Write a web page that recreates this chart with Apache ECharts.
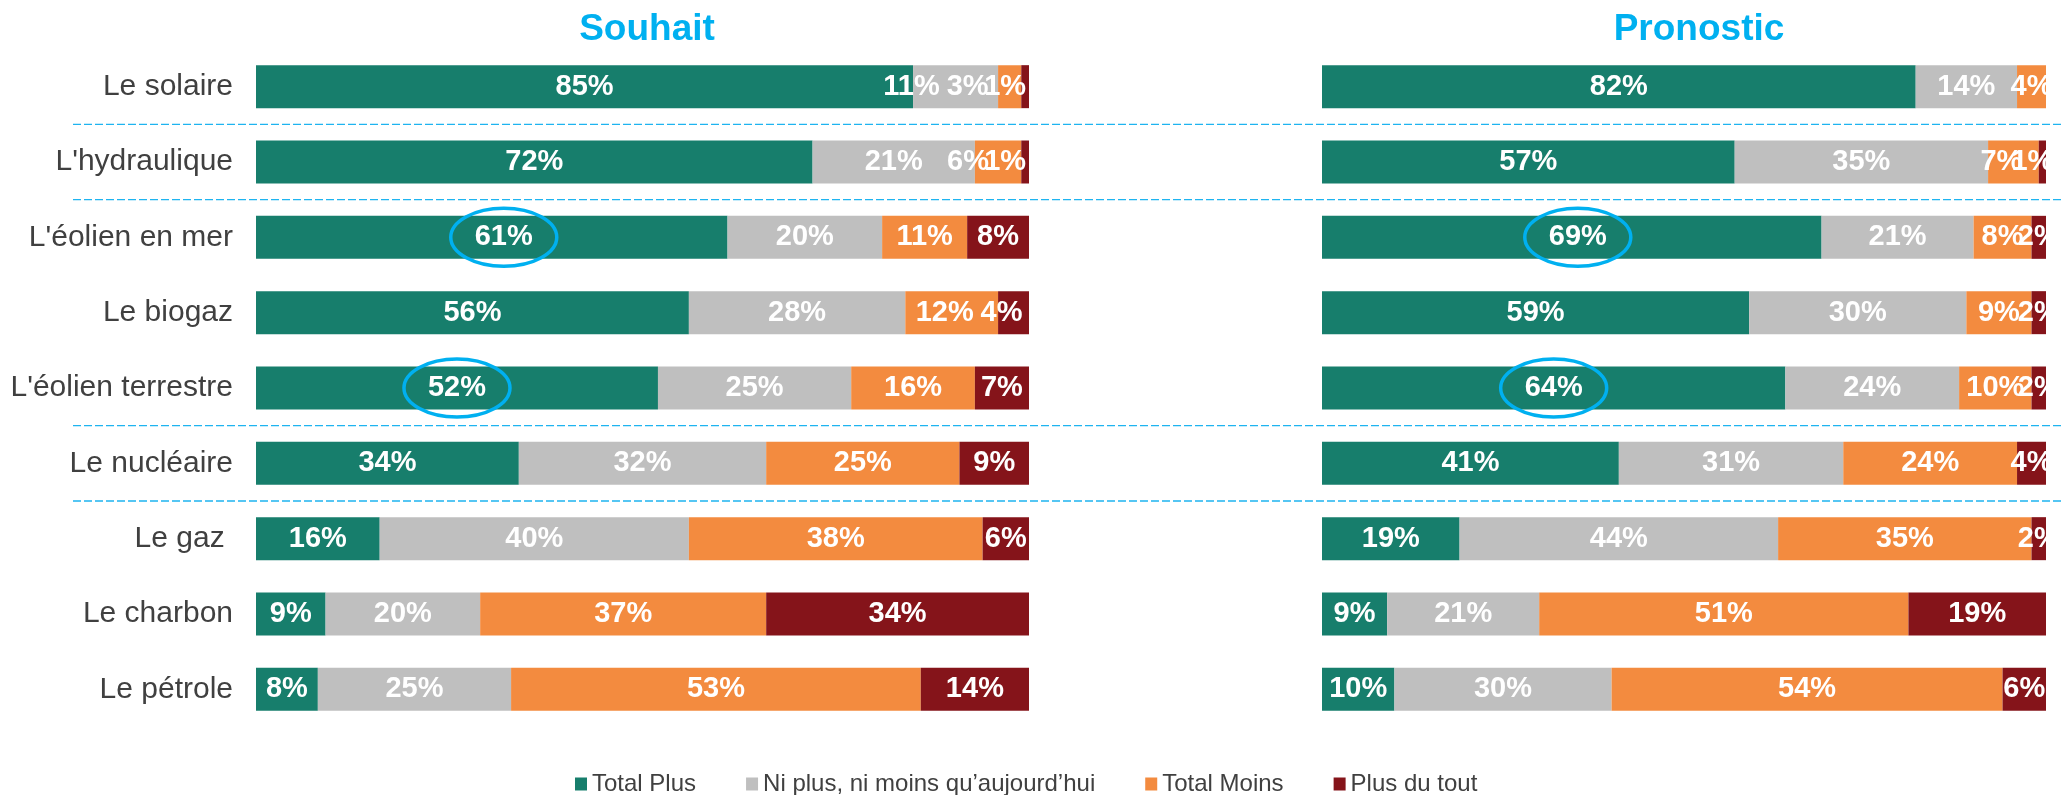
<!DOCTYPE html>
<html>
<head>
<meta charset="utf-8">
<script src="https://cdn.jsdelivr.net/npm/echarts@6/dist/echarts.min.js"></script>
<style>
  html, body { margin: 0; padding: 0; background: #fff; }
  #chart { width: 2061px; height: 795px; }
</style>
</head>
<body>
<div id="chart"></div>
<script>
const categories = ['Le solaire', "L'hydraulique", "L'éolien en mer", 'Le biogaz', "L'éolien terrestre", 'Le nucléaire', 'Le gaz ', 'Le charbon', 'Le pétrole'];
const seriesNames = ['Total Plus', 'Ni plus, ni moins qu’aujourd’hui', 'Total Moins', 'Plus du tout'];
const panelTitles = ['Souhait', 'Pronostic'];

const souhaitPlus = [85, 72, 61, 56, 52, 34, 16, 9, 8];
const souhaitNi = [11, 21, 20, 28, 25, 32, 40, 20, 25];
const souhaitMoins = [3, 6, 11, 12, 16, 25, 38, 37, 53];
const souhaitPlusDuTout = [1, 1, 8, 4, 7, 9, 6, 34, 14];

const pronosticPlus = [82, 57, 69, 59, 64, 41, 19, 9, 10];
const pronosticNi = [14, 35, 21, 30, 24, 31, 44, 21, 30];
const pronosticMoins = [4, 7, 8, 9, 10, 24, 35, 51, 54];
const pronosticPlusDuTout = [0, 1, 2, 2, 2, 4, 2, 19, 6];

// rows that get a blue ring around the "Total Plus" label: [panel, row]
const circled = [[0, 2], [0, 4], [1, 2], [1, 4]];
// dashed separator drawn below these rows
const separatorsAfter = [0, 1, 4, 5];

// labels shifted sideways as in the original: [panel, row, series, dx]
const labelNudges = [
  [0, 0, 1, -44], [0, 0, 2, -42], [0, 0, 3, -20],
  [0, 1, 2, -30], [0, 1, 3, -20],
  [0, 2, 0, 12],
  [0, 3, 2, -7], [0, 3, 3, -12],
  [1, 1, 2, -12], [1, 1, 3, -10],
  [1, 2, 0, 6]
];

const colors = ['#177E6C', '#BFBFBF', '#F38B3F', '#85141A'];
const font = 'Liberation Sans, Arial, sans-serif';

const panels = [
  [souhaitPlus, souhaitNi, souhaitMoins, souhaitPlusDuTout],
  [pronosticPlus, pronosticNi, pronosticMoins, pronosticPlusDuTout]
];

function nudgeOf(p, row, s) {
  const n = labelNudges.find(a => a[0] === p && a[1] === row && a[2] === s);
  return n ? n[3] : 0;
}

function buildData(p, s) {
  return panels[p][s].map((v, row) => {
    const dx = nudgeOf(p, row, s);
    return dx ? { value: v, label: { offset: [dx, 0] } } : v;
  });
}

const series = [];
panels.forEach((vals, p) => {
  vals.forEach((arr, s) => {
    series.push({
      name: seriesNames[s],
      type: 'bar',
      stack: 'panel' + p,
      xAxisIndex: p,
      yAxisIndex: p,
      barWidth: 43,
      itemStyle: { color: colors[s] },
      label: {
        show: true,
        position: 'inside',
        color: '#fff',
        fontWeight: 'bold',
        fontSize: 29,
        fontFamily: font,
        formatter: (prm) => prm.value > 0 ? prm.value + '%' : ''
      },
      emphasis: { disabled: true },
      data: buildData(p, s)
    });
  });
});

const chart = echarts.init(document.getElementById('chart'));

chart.setOption({
  animation: false,
  textStyle: { fontFamily: font },
  title: [
    { text: panelTitles[0], left: 647, top: 11, padding: 0, textAlign: 'center',
      textStyle: { color: '#00B0F0', fontSize: 37, fontWeight: 'bold', fontFamily: font } },
    { text: panelTitles[1], left: 1699, top: 11, padding: 0, textAlign: 'center',
      textStyle: { color: '#00B0F0', fontSize: 37, fontWeight: 'bold', fontFamily: font } }
  ],
  legend: {
    data: seriesNames,
    left: 575,
    top: 772,
    padding: 0,
    icon: 'rect',
    itemWidth: 12,
    itemHeight: 13,
    itemGap: 50,
    selectedMode: false,
    textStyle: { fontSize: 24, color: '#404040', fontFamily: font }
  },
  grid: [
    { left: 256, top: 49, width: 773, height: 678 },
    { left: 1322, top: 49, width: 724, height: 678 }
  ],
  xAxis: [0, 1].map(i => ({
    type: 'value', gridIndex: i, min: 0, max: 100, show: false
  })),
  yAxis: [0, 1].map(i => ({
    type: 'category',
    gridIndex: i,
    inverse: true,
    data: categories,
    axisLine: { show: false },
    axisTick: { show: false },
    axisLabel: {
      show: i === 0,
      margin: 23,
      fontSize: 30,
      color: '#404040',
      fontFamily: font
    }
  })),
  series: series
});

// overlays: separators, rings, right-edge clip
const graphics = [];

graphics.push({
  type: 'rect', z: 50, silent: true,
  shape: { x: 2048, y: 40, width: 20, height: 700 },
  style: { fill: '#fff' }
});

separatorsAfter.forEach(row => {
  const y1 = chart.convertToPixel({ yAxisIndex: 0 }, row);
  const y2 = chart.convertToPixel({ yAxisIndex: 0 }, row + 1);
  const y = (y1 + y2) / 2;
  graphics.push({
    type: 'line', z: 60, silent: true,
    shape: { x1: 73, y1: y, x2: 2061, y2: y },
    style: { stroke: '#1EB4F0', lineWidth: 1.3, lineDash: [8, 3] }
  });
});

circled.forEach(([p, row]) => {
  const v = panels[p][0][row] / 2;
  const pt = chart.convertToPixel({ gridIndex: p }, [v, row]);
  graphics.push({
    type: 'ellipse', z: 60, silent: true,
    shape: { cx: pt[0] + nudgeOf(p, row, 0), cy: pt[1], rx: 53, ry: 29 },
    style: { fill: 'none', stroke: '#00B0F0', lineWidth: 3.5 }
  });
});

chart.setOption({ graphic: graphics });
</script>
</body>
</html>
